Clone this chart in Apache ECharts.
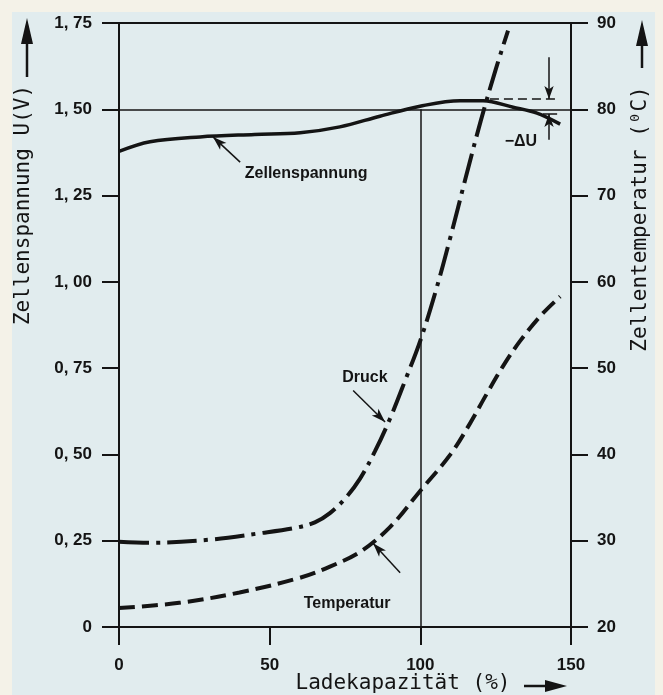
<!DOCTYPE html>
<html>
<head>
<meta charset="utf-8">
<script src="https://cdn.jsdelivr.net/npm/echarts@6/dist/echarts.min.js"></script>
<style>
  body { margin: 0; }
  #wrap { position: relative; width: 663px; height: 695px; background: #f4f2e8; }
  #bg { position: absolute; left: 12px; top: 12px; width: 643px; height: 683px; background: #e1ecee; }
  #main { position: absolute; left: 0; top: 0; width: 663px; height: 695px; }
</style>
</head>
<body>
<div id="wrap"><div id="bg"></div><div id="main"></div></div>
<script>
// 数据：Ladekapazität (%) 与三条曲线
var spannungX = [0, 10.3, 26.9, 45, 60.1, 73.3, 86.6, 99.9, 113.2, 120.8, 130.8, 138.7, 146.4];
var spannungY = [1.378, 1.406, 1.42, 1.427, 1.432, 1.449, 1.48, 1.509, 1.525, 1.525, 1.506, 1.489, 1.457];

var druckX = [0, 10, 30, 47, 59, 65, 70, 75, 80, 85, 90, 95, 100, 105, 110, 115, 120, 125, 129.1];
var druckY = [0.247, 0.244, 0.253, 0.272, 0.288, 0.303, 0.33, 0.372, 0.43, 0.51, 0.605, 0.715, 0.83, 0.97, 1.13, 1.30, 1.465, 1.615, 1.728];

var tempX = [0, 20, 40, 60, 70, 80, 90, 100, 110, 116.5, 122, 127.4, 133, 140, 146.4];
var tempY = [22.2, 22.8, 24.0, 25.7, 27.0, 28.7, 31.6, 35.8, 40.0, 43.6, 47.0, 50.2, 53.1, 56.1, 58.3];

// Achsen
var uMin = 0, uMax = 1.75, uStep = 0.25;
var tMin = 20, tMax = 90, tStep = 10;

// Beschriftungen im Diagramm (Datenkoordinaten)
var textSpannung = ['Zellenspannung', 62.1, 1.315];
var textDruck = ['Druck', 81.6, 0.724];
var textTemp = ['Temperatur', 75.7, 22.7];
var textDeltaU = ['\u2212\u0394U', 133.4, 1.406];
var pfeilSpannung = [[40.2, 1.347], [31.2, 1.42]];
var pfeilDruck = [[77.7, 0.685], [88.3, 0.594]];
var pfeilTemp = [[93.3, 26.3], [84.3, 29.7]];
var uRef = 1.5, xRef = 100;
var deltaOben = 1.53, deltaUnten = 1.486, deltaX = 142.7;

function pairs(xs, ys) {
    return xs.map(function (x, i) { return [x, ys[i]]; });
}

var ink = '#141414';
var tickFont = { color: ink, fontSize: 17, fontWeight: 'bold', fontFamily: 'Liberation Sans' };
var noteFont = { color: ink, fontSize: 16, fontWeight: 'bold', fontFamily: 'Liberation Sans' };
var titleFont = '21px "DejaVu Sans Mono"';

function note(t) {
    return {
        name: t[0], coord: [t[1], t[2]], symbol: 'circle', symbolSize: 1,
        itemStyle: { color: 'transparent' },
        label: Object.assign({ show: true, position: 'inside', formatter: '{b}' }, noteFont)
    };
}
function pfeil(p) {
    return [{ coord: p[0] }, { coord: p[1] }];
}

var myChart = echarts.init(document.getElementById('main'));

var option = {
    animation: false,
    grid: { left: 119, right: 92, top: 23, bottom: 68, outerBoundsMode: 'none' },
    xAxis: [{
        type: 'value', min: 0, max: 150, interval: 50, position: 'bottom',
        axisLine: { show: true, onZero: false, lineStyle: { color: ink, width: 2 } },
        axisTick: { show: true, length: 18, lineStyle: { color: ink, width: 2 } },
        axisLabel: Object.assign({ margin: 30 }, tickFont),
        splitLine: { show: false }
    }, {
        type: 'value', min: 0, max: 150, position: 'top',
        axisLine: { show: true, onZero: false, lineStyle: { color: ink, width: 2 } },
        axisTick: { show: false }, axisLabel: { show: false }, splitLine: { show: false }
    }],
    yAxis: [{
        type: 'value', min: uMin, max: uMax, interval: uStep, position: 'left',
        axisLine: { show: true, onZero: false, lineStyle: { color: ink, width: 2 } },
        axisTick: { show: true, length: 17, lineStyle: { color: ink, width: 2 } },
        axisLabel: Object.assign({
            margin: 27,
            formatter: function (v) { return v === 0 ? '0' : v.toFixed(2).replace('.', ', '); }
        }, tickFont),
        splitLine: { show: false }
    }, {
        type: 'value', min: tMin, max: tMax, interval: tStep, position: 'right',
        axisLine: { show: true, onZero: false, lineStyle: { color: ink, width: 2 } },
        axisTick: { show: true, length: 17, lineStyle: { color: ink, width: 2 } },
        axisLabel: Object.assign({ margin: 26 }, tickFont),
        splitLine: { show: false }
    }],
    series: [{
        name: 'Zellenspannung', type: 'line', yAxisIndex: 0,
        data: pairs(spannungX, spannungY),
        smooth: 0.35, showSymbol: false,
        lineStyle: { color: ink, width: 3.5 },
        markLine: {
            silent: true, symbol: 'none', label: { show: false },
            lineStyle: { color: ink, width: 1.5, type: 'solid' },
            data: [
                [{ coord: [0, uRef] }, { coord: [150, uRef] }],
                [{ coord: [xRef, 0] }, { coord: [xRef, uRef] }],
                [{ coord: [123.1, deltaOben], lineStyle: { type: [9, 5] } }, { coord: [145.4, deltaOben] }],
                [{ coord: [140.7, deltaUnten] }, { coord: [145.4, deltaUnten] }],
                [{ coord: [deltaX, 1.651], symbol: 'none' }, { coord: [deltaX, deltaOben], symbol: 'arrow', symbolSize: [7, 13] }],
                [{ coord: [deltaX, 1.412], symbol: 'none' }, { coord: [deltaX, deltaUnten], symbol: 'arrow', symbolSize: [7, 13] }],
                [{ coord: pfeilSpannung[0], symbol: 'none' },
                 { coord: pfeilSpannung[1], symbol: 'arrow', symbolSize: [7, 14] }]
            ]
        },
        markPoint: { silent: true, data: [note(textSpannung), note(textDeltaU)] }
    }, {
        name: 'Druck', type: 'line', yAxisIndex: 0,
        data: pairs(druckX, druckY),
        smooth: 0.35, showSymbol: false,
        lineStyle: { color: ink, width: 4, type: [30, 7, 4, 7] },
        markLine: {
            silent: true, label: { show: false },
            lineStyle: { color: ink, width: 1.5, type: 'solid' },
            symbol: ['none', 'arrow'], symbolSize: [7, 14],
            data: [pfeil(pfeilDruck)]
        },
        markPoint: { silent: true, data: [note(textDruck)] }
    }, {
        name: 'Temperatur', type: 'line', yAxisIndex: 1,
        data: pairs(tempX, tempY),
        smooth: 0.35, showSymbol: false,
        lineStyle: { color: ink, width: 4, type: [16, 7] },
        markLine: {
            silent: true, label: { show: false },
            lineStyle: { color: ink, width: 1.5, type: 'solid' },
            symbol: ['none', 'arrow'], symbolSize: [7, 14],
            data: [pfeil(pfeilTemp)]
        },
        markPoint: { silent: true, data: [note(textTemp)] }
    }],
    graphic: [
        // linke Achsenbeschriftung
        { type: 'text', x: 24, y: 205, rotation: Math.PI / 2,
          style: { text: 'Zellenspannung U(V)', font: titleFont, fill: ink, align: 'center', verticalAlign: 'middle' } },
        { type: 'line', shape: { x1: 27, y1: 77, x2: 27, y2: 40 }, style: { stroke: ink, lineWidth: 2.5 } },
        { type: 'polygon', shape: { points: [[27, 18], [21, 44], [33, 44]] }, style: { fill: ink } },
        // rechte Achsenbeschriftung
        { type: 'text', x: 641, y: 219, rotation: Math.PI / 2,
          style: { text: 'Zellentemperatur (\u2070C)', font: titleFont, fill: ink, align: 'center', verticalAlign: 'middle' } },
        { type: 'line', shape: { x1: 642, y1: 68, x2: 642, y2: 42 }, style: { stroke: ink, lineWidth: 2.5 } },
        { type: 'polygon', shape: { points: [[642, 20], [636, 46], [648, 46]] }, style: { fill: ink } },
        // x-Achsenbeschriftung
        { type: 'text', x: 403, y: 684,
          style: { text: 'Ladekapazität (%)', font: titleFont, fill: ink, align: 'center', verticalAlign: 'middle' } },
        { type: 'line', shape: { x1: 524, y1: 686, x2: 550, y2: 686 }, style: { stroke: ink, lineWidth: 2.5 } },
        { type: 'polygon', shape: { points: [[567, 686], [545, 680], [545, 692]] }, style: { fill: ink } }
    ]
};

myChart.setOption(option);
</script>
</body>
</html>
